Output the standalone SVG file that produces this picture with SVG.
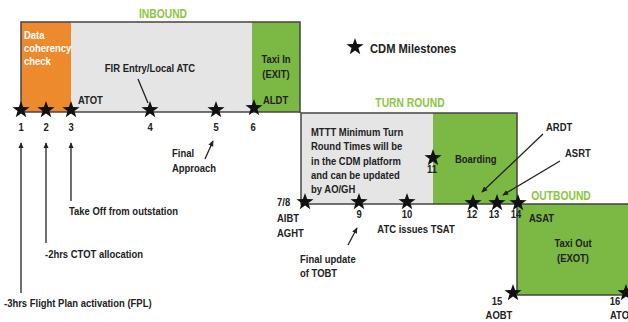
<svg xmlns="http://www.w3.org/2000/svg" width="628" height="322" viewBox="0 0 628 322">
<defs>
<path id="star" d="M0,-9 L2.12,-2.91 L8.56,-2.78 L3.42,1.11 L5.29,7.28 L0,3.6 L-5.29,7.28 L-3.42,1.11 L-8.56,-2.78 L-2.12,-2.91 Z" fill="#111"/>
<marker id="ah" viewBox="0 0 8 8" refX="7" refY="4" markerWidth="6" markerHeight="6" orient="auto-start-reverse" markerUnits="userSpaceOnUse"><path d="M0,0.5 L8,4 L0,7.5 Z" fill="#222"/></marker>
</defs>
<style>
text{font-family:"Liberation Sans Narrow","Liberation Sans",Arial,sans-serif;font-weight:bold;font-size:11px;fill:#222}
.hd{fill:#8DC63F;font-size:12px}
.wt{fill:#fff}
.mid{text-anchor:middle}
.box{stroke:#444;stroke-width:1.5}
.ln{stroke:#222;stroke-width:1.3;fill:none}
.big{font-size:13px}
</style>
<rect width="628" height="322" fill="#fff"/>
<g id="inbound">
<rect x="21" y="22" width="50" height="90" fill="#EE8A2E"/>
<rect x="71" y="22" width="181" height="90" fill="#E5E5E5"/>
<rect x="252" y="22" width="48" height="90" fill="#7CB844"/>
<path class="box" d="M21,112 V22 H300 V113" fill="none"/>
<line class="box" x1="21" y1="112" x2="300" y2="112"/>
<text class="hd mid" transform="translate(163,18) scale(.86,1)">INBOUND</text>
<text class="wt" transform="translate(24,39) scale(.86,1)">Data</text>
<text class="wt" transform="translate(24,52) scale(.86,1)">coherency</text>
<text class="wt" transform="translate(24,65) scale(.86,1)">check</text>
<text class="mid" transform="translate(150,72) scale(.86,1)">FIR Entry/Local ATC</text>
<text transform="translate(78,104) scale(.86,1)">ATOT</text>
<text class="mid" transform="translate(276,63) scale(.86,1)">Taxi In</text>
<text class="mid" transform="translate(276,78) scale(.86,1)">(EXIT)</text>
<text transform="translate(263,104) scale(.86,1)">ALDT</text>
</g>
<g id="turnround">
<rect x="301" y="113" width="132" height="91" fill="#E5E5E5"/>
<rect x="433" y="113" width="84" height="91" fill="#7CB844"/>
<path class="box" d="M301,113 H517 V204 H301 Z" fill="none"/>
<text class="hd mid" transform="translate(410,107) scale(.86,1)">TURN ROUND</text>
<text transform="translate(311,136) scale(.86,1)">MTTT Minimum Turn</text>
<text transform="translate(311,150) scale(.86,1)">Round Times will be</text>
<text transform="translate(311,165) scale(.86,1)">in the CDM platform</text>
<text transform="translate(311,179) scale(.86,1)">and can be updated</text>
<text transform="translate(311,193) scale(.86,1)">by AO/GH</text>
<text transform="translate(455,163) scale(.86,1)">Boarding</text>
</g>
<g id="outbound">
<rect x="517" y="204" width="111" height="91" fill="#7CB844"/>
<path class="box" d="M628,204 H517 V295 H628" fill="none"/>
<text class="hd mid" transform="translate(561,200) scale(.86,1)">OUTBOUND</text>
<text transform="translate(529,222) scale(.86,1)">ASAT</text>
<text class="mid" transform="translate(573,247) scale(.86,1)">Taxi Out</text>
<text class="mid" transform="translate(573,262) scale(.86,1)">(EXOT)</text>
</g>
<g id="legend">
<use href="#star" x="355" y="47"/>
<text class="big" transform="translate(370,53) scale(.86,1)">CDM Milestones</text>
</g>
<g id="milestones">
<use href="#star" x="21" y="110"/>
<use href="#star" x="46" y="110"/>
<use href="#star" x="71" y="110"/>
<use href="#star" x="150" y="110"/>
<use href="#star" x="216" y="110"/>
<use href="#star" x="254" y="108"/>
<use href="#star" x="305" y="202"/>
<use href="#star" x="359" y="202"/>
<use href="#star" x="407" y="202"/>
<use href="#star" x="433" y="158"/>
<use href="#star" x="473" y="203"/>
<use href="#star" x="497" y="203"/>
<use href="#star" x="518" y="203"/>
<use href="#star" x="513" y="293"/>
<use href="#star" x="626" y="293"/>
<text class="mid" transform="translate(21,131) scale(.86,1)">1</text>
<text class="mid" transform="translate(46,131) scale(.86,1)">2</text>
<text class="mid" transform="translate(71,131) scale(.86,1)">3</text>
<text class="mid" transform="translate(150,131) scale(.86,1)">4</text>
<text class="mid" transform="translate(216,131) scale(.86,1)">5</text>
<text class="mid" transform="translate(253,131) scale(.86,1)">6</text>
<text transform="translate(277,206) scale(.86,1)">7/8</text>
<text transform="translate(277,222) scale(.86,1)">AIBT</text>
<text transform="translate(277,237) scale(.86,1)">AGHT</text>
<text class="mid" transform="translate(359,218) scale(.86,1)">9</text>
<text class="mid" transform="translate(407,218) scale(.86,1)">10</text>
<text class="mid" transform="translate(416,233) scale(.86,1)">ATC issues TSAT</text>
<text class="mid" transform="translate(432,173) scale(.86,1)">11</text>
<text class="mid" transform="translate(472,218) scale(.86,1)">12</text>
<text class="mid" transform="translate(494,218) scale(.86,1)">13</text>
<text class="mid" transform="translate(516,218) scale(.86,1)">14</text>
<text class="mid" transform="translate(497,305) scale(.86,1)">15</text>
<text class="mid" transform="translate(499,319) scale(.86,1)">AOBT</text>
<text class="mid" transform="translate(615,305) scale(.86,1)">16</text>
<text transform="translate(610,319) scale(.86,1)">ATO</text>
</g>
<g id="annotations">
<text transform="translate(546,131) scale(.86,1)">ARDT</text>
<text transform="translate(565,157) scale(.86,1)">ASRT</text>
<text transform="translate(172,157) scale(.86,1)">Final</text>
<text transform="translate(172,172) scale(.86,1)">Approach</text>
<text transform="translate(300,263) scale(.86,1)">Final update</text>
<text transform="translate(300,277) scale(.86,1)">of TOBT</text>
<text transform="translate(69,215) scale(.86,1)">Take Off from outstation</text>
<text transform="translate(45,258) scale(.86,1)">-2hrs CTOT allocation</text>
<text transform="translate(4,307) scale(.86,1)">-3hrs Flight Plan activation (FPL)</text>
</g>
<g id="connectors">
<line class="ln" x1="21" y1="293" x2="21" y2="143" marker-end="url(#ah)"/>
<line class="ln" x1="46" y1="243" x2="46" y2="143" marker-end="url(#ah)"/>
<line class="ln" x1="71" y1="201" x2="71" y2="143" marker-end="url(#ah)"/>
<line class="ln" x1="205" y1="159" x2="213" y2="141" marker-end="url(#ah)"/>
<line class="ln" x1="138" y1="79" x2="148" y2="103"/>
<line class="ln" x1="348" y1="245" x2="357" y2="228" marker-end="url(#ah)"/>
<line class="ln" x1="543" y1="134" x2="482" y2="192" marker-end="url(#ah)"/>
<line class="ln" x1="560" y1="161" x2="503" y2="195" marker-end="url(#ah)"/>
</g>
</svg>
